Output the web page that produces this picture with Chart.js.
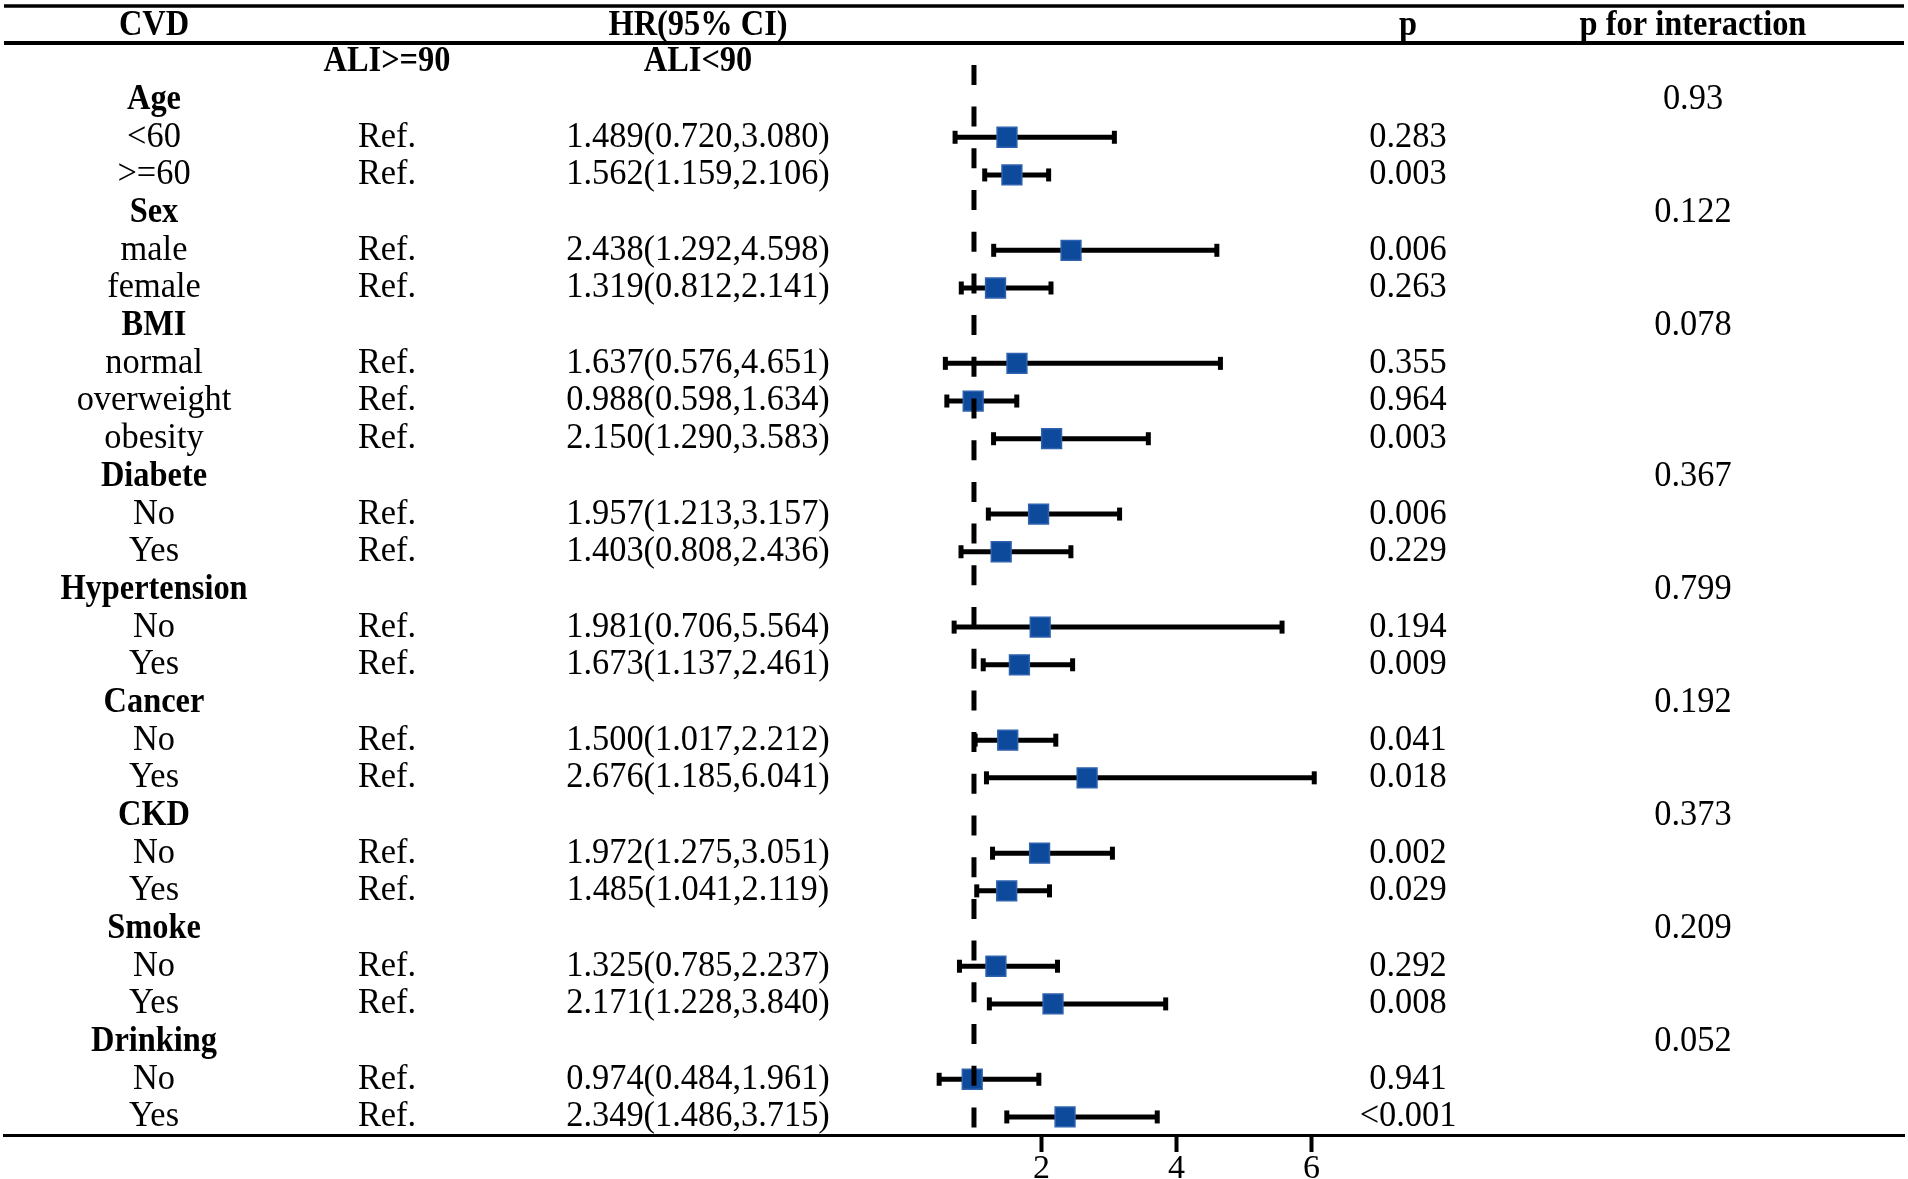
<!DOCTYPE html>
<html lang="en">
<head>
    <meta charset="UTF-8">
    <title>CVD subgroup forest plot</title>
    <script src="https://cdn.jsdelivr.net/npm/chart.js"></script>
    <style>
        html, body { margin: 0; padding: 0; background: #fff; }
        #wrap { width: 1908px; height: 1179px; position: relative; }
    </style>
</head>
<body>
    <div id="wrap"><canvas id="forest"></canvas></div>

    <script>
        // group headers and their p for interaction
        const groups = ['Age', 'Sex', 'BMI', 'Diabete', 'Hypertension', 'Cancer', 'CKD', 'Smoke', 'Drinking'];
        const pInteraction = ['0.93', '0.122', '0.078', '0.367', '0.799', '0.192', '0.373', '0.209', '0.052'];

        // subgroup rows
        const subLabels = ['<60', '>=60', 'male', 'female', 'normal', 'overweight', 'obesity',
            'No', 'Yes', 'No', 'Yes', 'No', 'Yes', 'No', 'Yes', 'No', 'Yes', 'No', 'Yes'];
        const subGroup = [0, 0, 1, 1, 2, 2, 2, 3, 3, 4, 4, 5, 5, 6, 6, 7, 7, 8, 8];
        const hr = [1.489, 1.562, 2.438, 1.319, 1.637, 0.988, 2.150, 1.957, 1.403, 1.981, 1.673,
            1.500, 2.676, 1.972, 1.485, 1.325, 2.171, 0.974, 2.349];
        const lower = [0.720, 1.159, 1.292, 0.812, 0.576, 0.598, 1.290, 1.213, 0.808, 0.706, 1.137,
            1.017, 1.185, 1.275, 1.041, 0.785, 1.228, 0.484, 1.486];
        const upper = [3.080, 2.106, 4.598, 2.141, 4.651, 1.634, 3.583, 3.157, 2.436, 5.564, 2.461,
            2.212, 6.041, 3.051, 2.119, 2.237, 3.840, 1.961, 3.715];
        const pValue = ['0.283', '0.003', '0.006', '0.263', '0.355', '0.964', '0.003', '0.006', '0.229',
            '0.194', '0.009', '0.041', '0.018', '0.002', '0.029', '0.292', '0.008', '0.941', '<0.001'];

        const xTicks = [2, 4, 6];
        const nullHR = 1;

        // lay the rows out: row 0 is the ALI header line
        const rows = [];
        let r = 1;
        groups.forEach((g, gi) => {
            rows.push({ y: r++, head: true, label: g, pint: pInteraction[gi] });
            subGroup.forEach((sg, i) => {
                if (sg === gi) rows.push({ y: r++, head: false, label: subLabels[i], idx: i });
            });
        });
        const subRows = rows.filter(d => !d.head);

        const points = subRows.map(d => ({ x: hr[d.idx], y: d.y }));
        const bars = [];
        subRows.forEach(d => {
            bars.push({ x: lower[d.idx], y: d.y }, { x: upper[d.idx], y: d.y }, { x: null, y: null });
        });

        const fmt = v => v.toFixed(3);
        const cols = { label: 154, ref: 387, hr: 698, p: 1408, pint: 1693 };
        const FONT = '"Liberation Serif", "Times New Roman", serif';

        function text(ctx, s, x, y, bold) {
            ctx.save();
            ctx.translate(x, y);
            ctx.scale(bold ? 0.9 : 0.955, 1);
            ctx.font = (bold ? 'bold ' : '') + '36px ' + FONT;
            ctx.fillStyle = '#000';
            ctx.textAlign = 'center';
            ctx.textBaseline = 'middle';
            ctx.fillText(s, 0, 0);
            ctx.restore();
        }

        const tablePlugin = {
            id: 'table',
            afterDraw(chart) {
                const ctx = chart.ctx;
                const ys = chart.scales.y;
                ctx.save();
                ctx.strokeStyle = '#000';
                ctx.lineWidth = 3.5;
                ctx.beginPath(); ctx.moveTo(4, 6); ctx.lineTo(1904, 6); ctx.stroke();
                ctx.lineWidth = 4;
                ctx.beginPath(); ctx.moveTo(4, 43); ctx.lineTo(1904, 43); ctx.stroke();
                ctx.restore();

                text(ctx, 'CVD', cols.label, 26, true);
                text(ctx, 'HR(95% CI)', cols.hr, 26, true);
                text(ctx, 'p', cols.p, 26, true);
                text(ctx, 'p for interaction', cols.pint, 26, true);

                const y0 = ys.getPixelForValue(0);
                text(ctx, 'ALI>=90', cols.ref, y0, true);
                text(ctx, 'ALI<90', cols.hr, y0, true);

                rows.forEach(d => {
                    const y = ys.getPixelForValue(d.y);
                    if (d.head) {
                        text(ctx, d.label, cols.label, y, true);
                        text(ctx, d.pint, cols.pint, y, false);
                    } else {
                        const i = d.idx;
                        text(ctx, d.label, cols.label, y, false);
                        text(ctx, 'Ref.', cols.ref, y, false);
                        text(ctx, fmt(hr[i]) + '(' + fmt(lower[i]) + ',' + fmt(upper[i]) + ')', cols.hr, y, false);
                        text(ctx, pValue[i], cols.p, y, false);
                    }
                });
            }
        };

        new Chart(document.getElementById('forest'), {
            type: 'scatter',
            data: {
                datasets: [
                    {
                        type: 'line',
                        data: [{ x: nullHR, y: 0.08 }, { x: nullHR, y: 28.48 }],
                        borderColor: '#000',
                        borderWidth: 5,
                        borderDash: [20, 21.7],
                        pointRadius: 0,
                        order: 0
                    },
                    {
                        data: points,
                        pointStyle: 'rect',
                        pointRadius: 14,
                        backgroundColor: '#0e4a9c',
                        borderColor: '#2f62ae',
                        borderWidth: 1.5,
                        order: 1
                    },
                    {
                        type: 'line',
                        data: bars,
                        borderColor: '#000',
                        borderWidth: 5,
                        spanGaps: false,
                        pointStyle: 'line',
                        rotation: 90,
                        pointRadius: 6.5,
                        pointBorderWidth: 5,
                        pointBorderColor: '#000',
                        order: 2
                    }
                ]
            },
            options: {
                responsive: true,
                maintainAspectRatio: false,
                animation: false,
                layout: { autoPadding: false, padding: { left: 4, right: 4, top: 0, bottom: -7 } },
                plugins: { legend: { display: false }, tooltip: { enabled: false } },
                scales: {
                    x: {
                        type: 'linear',
                        min: -13.37,
                        max: 14.778,
                        afterBuildTicks: axis => { axis.ticks = xTicks.map(v => ({ value: v })); },
                        grid: {
                            drawOnChartArea: false,
                            drawTicks: true,
                            tickLength: 17,
                            tickWidth: 4,
                            tickColor: '#000'
                        },
                        border: { display: true, color: '#000', width: 3 },
                        ticks: {
                            color: '#000',
                            padding: 7,
                            maxRotation: 0,
                            font: { family: FONT, size: 34, lineHeight: 20 / 34 }
                        }
                    },
                    y: {
                        type: 'linear',
                        display: false,
                        reverse: true,
                        min: -1.643,
                        max: 28.479
                    }
                }
            },
            plugins: [tablePlugin]
        });
    </script>
</body>
</html>
